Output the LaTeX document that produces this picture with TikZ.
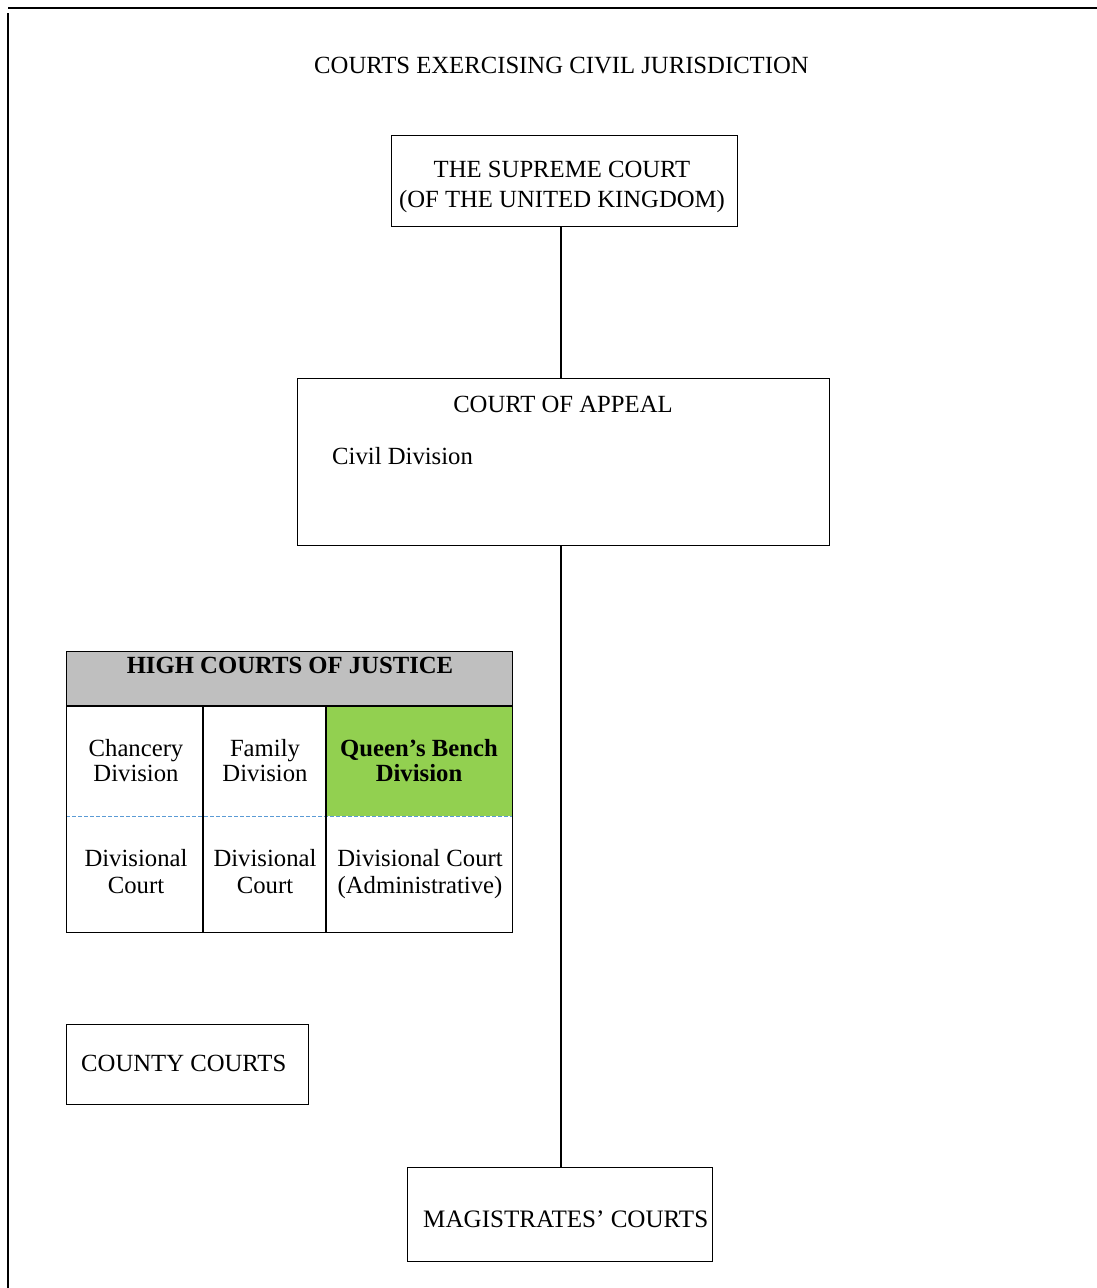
\documentclass[tikz,border=0pt]{standalone}
\usepackage{fontspec}
\setmainfont{Liberation Serif}
\begin{document}
\begin{tikzpicture}[x=1pt,y=-1pt,
  box/.style={draw=black,line width=1.4pt,inner sep=0pt,anchor=north west},
  txt/.style={inner sep=0pt,anchor=base,font=\fontsize{24.7}{30}\selectfont},
  btxt/.style={txt,font=\fontsize{24.7}{30}\selectfont\bfseries},
  conn/.style={draw=black,line width=1.4pt}]
\useasboundingbox (0,0) rectangle (1097,1288);
% page frame lines
\draw[line width=2.2pt] (8,8) -- (1097,8);
\draw[line width=2.2pt] (8,13) -- (8,1288);
% title
\node[txt] (title) at (561.5,73) {COURTS EXERCISING CIVIL JURISDICTION};
% supreme court
\node[box,minimum width=346,minimum height=91] (sc) at (391,135) {};
\node[txt] (sc1) at (562,177) {THE SUPREME COURT};
\node[txt] (sc2) at (562,207) {(OF THE UNITED KINGDOM)};
% court of appeal
\node[box,minimum width=532,minimum height=167] (ca) at (297,378) {};
\node[txt] (ca1) at (563,412) {COURT OF APPEAL};
\node[txt,anchor=base west] (ca2) at (332,464) {Civil Division};
% magistrates
\node[box,minimum width=305,minimum height=94] (mc) at (407,1167) {};
\node[txt,anchor=base west,font=\fontsize{25.1}{30}\selectfont] (mc1) at (423,1227) {MAGISTRATES’ COURTS};
% county courts
\node[box,minimum width=242,minimum height=80] (cc) at (66,1024) {};
\node[txt,anchor=base west] (cc1) at (81,1071) {COUNTY COURTS};
% connectors
\coordinate (axis) at (561,0);
\draw[conn] (sc.south -| axis) -- (ca.north -| axis);
\draw[conn] (ca.south -| axis) -- (mc.north -| axis);
% high courts table
\fill[fill={rgb,255:red,191;green,191;blue,191}] (66,651) rectangle (512,706);
\fill[fill={rgb,255:red,146;green,208;blue,80}] (326,706) rectangle (512,816);
\draw[draw={rgb,255:red,91;green,155;blue,213},line width=1pt,dash pattern=on 4pt off 2pt] (66,816) -- (512,816);
\node[box,minimum width=446,minimum height=281] (hc) at (66,651) {};
\draw[line width=1.4pt] (66,706) -- (512,706);
\draw[line width=1.4pt] (203,706) -- (203,932);
\draw[line width=1.4pt] (326,706) -- (326,932);
\node[btxt] (hct) at (290,673) {HIGH COURTS OF JUSTICE};
\node[txt] (ch1) at (136,756) {Chancery};
\node[txt] (ch2) at (136,781) {Division};
\node[txt] (fa1) at (265,756) {Family};
\node[txt] (fa2) at (265,781) {Division};
\node[btxt] (qb1) at (419,756) {Queen’s Bench};
\node[btxt] (qb2) at (419,781) {Division};
\node[txt] (dc1) at (136,866) {Divisional};
\node[txt] (dc2) at (136,893) {Court};
\node[txt] (df1) at (265,866) {Divisional};
\node[txt] (df2) at (265,893) {Court};
\node[txt] (dq1) at (420,866) {Divisional Court};
\node[txt] (dq2) at (420,893) {(Administrative)};
\end{tikzpicture}
\end{document}
